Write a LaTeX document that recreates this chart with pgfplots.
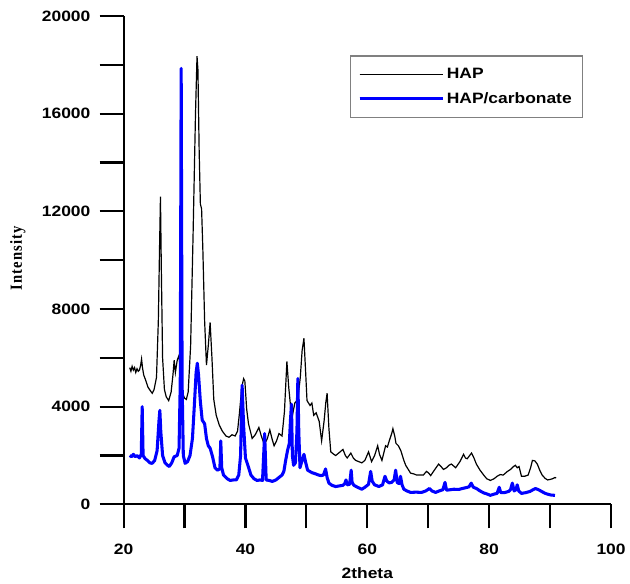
\documentclass[border=0pt]{standalone}
\usepackage{fontspec}
\setmainfont{Liberation Sans}[FakeStretch=1.16]
\newfontfamily\serfont{Liberation Serif}[LetterSpace=8]
\usepackage{pgfplots}
\pgfplotsset{compat=1.18}

\begin{document}
\begin{tikzpicture}
\begin{axis}[
  scale only axis,
  width=366.75pt, height=367.5pt,
  xmin=20, xmax=100, ymin=0, ymax=20000,
  axis x line*=bottom, axis y line*=left,
  axis line style={line width=1.6pt},
  tick align=outside,
  major tick length=18pt, minor tick length=18pt,
  tick style={black, line width=1.6pt},
  xtick={20,40,...,100}, minor xtick={30,50,70,90},
  ytick={0,4000,...,20000}, minor ytick={2000,6000,...,18000},
  scaled y ticks=false,
  /pgf/number format/1000 sep={},
  /pgf/number format/assume math mode=true,
  ticklabel style={font=\fontsize{11.3}{13}\selectfont\bfseries},
  xticklabel style={yshift=-8.5pt},
  yticklabel style={xshift=-3.5pt},
  xlabel={2theta}, ylabel={\serfont\bfseries Intensity},
  xlabel style={at={(axis description cs:0.5,-0.1408)}, anchor=center, font=\fontsize{11.3}{13}\selectfont\bfseries},
  ylabel style={at={(axis description cs:-0.2168,0.504)}, anchor=center, yscale=1.16, font=\fontsize{11}{13}\selectfont},
  legend style={at={(rel axis cs:0.4636,0.919)}, anchor=north west, draw=gray, line width=0.8pt,
    inner xsep=6pt, inner ysep=7.5pt, row sep=4.5pt,
    font=\fontsize{11.3}{13}\selectfont\bfseries, cells={anchor=west}},
  legend image code/.code={\path (0pt,0pt) -- (62.5pt,0pt); \draw[#1] (0pt,0pt) -- (57pt,0pt);},
]
\addplot[black, line width=0.9pt] coordinates {
(21.0,5600) (21.2,5450) (21.4,5650) (21.6,5500) (21.8,5600) (22.0,5400) (22.2,5550) (22.4,5450)
(22.6,5500) (22.8,5700) (22.95,5950) (23.1,5600) (23.3,5300) (23.6,5100) (24.0,4800) (24.4,4650)
(24.7,4550) (25.0,4700) (25.4,5200) (25.7,7500) (25.9,10500) (26.05,12600) (26.2,9500) (26.4,6000)
(26.7,4700) (27.0,4400) (27.4,4250) (27.8,4600) (28.1,5300) (28.3,5900) (28.5,5400) (28.8,5900)
(29.1,6100) (29.3,5500) (29.6,4600) (30.0,4350) (30.3,4300) (30.6,4600) (31.0,6500) (31.4,11000)
(31.8,16000) (32.05,18350) (32.2,17800) (32.4,14500) (32.6,12300) (32.8,12100) (33.0,10500)
(33.3,7500) (33.6,5700) (33.9,6500) (34.2,7450) (34.5,6000) (34.8,4300) (35.2,3650) (35.7,3250)
(36.2,3000) (36.8,2800) (37.3,2750) (37.8,2850) (38.3,2800) (38.7,3000) (39.0,3700) (39.4,4800)
(39.7,5150) (39.9,5050) (40.2,3900) (40.5,3300) (41.1,2700) (41.6,2850) (42.2,3150) (42.6,2800)
(43.1,2450) (43.6,2700) (44.0,3050) (44.4,2650) (44.7,2400) (45.1,2600) (45.5,2900) (46.0,2800)
(46.4,3800) (46.8,5850) (47.1,4800) (47.6,3500) (48.1,4150) (48.6,4300) (49.0,5200) (49.3,6300)
(49.6,6800) (49.9,5300) (50.1,4250) (50.6,4050) (50.9,4150) (51.2,3650) (51.6,3750) (52.1,3400)
(52.5,2600) (52.9,3400) (53.2,4200) (53.4,4550) (53.7,3100) (54.0,2150) (54.5,2050) (54.8,2000)
(55.3,2100) (56.0,2250) (56.4,2000) (56.7,1900) (57.3,2100) (57.7,1900) (58.1,1800) (58.6,1750)
(59.1,1700) (59.6,1800) (60.2,2150) (60.7,1750) (61.2,2000) (61.7,2400) (62.0,2050) (62.4,1800)
(63.0,2400) (63.3,2350) (63.6,2600) (64.0,2900) (64.2,3100) (64.5,2800) (64.7,2500) (65.1,2400)
(65.5,2200) (66.0,1800) (66.3,1600) (66.8,1400) (67.1,1280) (67.6,1250) (68.1,1200) (68.7,1200)
(69.2,1200) (69.7,1350) (70.0,1300) (70.4,1180) (71.0,1400) (71.7,1650) (72.1,1550) (72.5,1430)
(73.0,1500) (73.4,1600) (73.8,1650) (74.5,1500) (75.2,1750) (75.8,2050) (76.1,1900) (76.4,1870)
(77.1,2100) (77.5,1900) (77.9,1650) (78.5,1400) (79.1,1200) (79.6,1050) (80.2,980) (80.8,1050)
(81.3,1150) (81.8,1220) (82.3,1200) (83.0,1350) (83.5,1430) (84.0,1550) (84.3,1600) (84.6,1500)
(84.9,1550) (85.3,1150) (85.8,1150) (86.4,1200) (86.8,1500) (87.1,1800) (87.5,1780) (87.9,1650)
(88.3,1400) (88.7,1200) (89.2,1060) (89.6,1000) (90.0,1020) (90.4,1050) (90.8,1100) (91.0,1080)
};
\addlegendentry{HAP}
\addplot[blue, line width=2.3pt, line join=round] coordinates {
(21.0,2000) (21.3,1950) (21.6,2050) (21.9,1950) (22.2,2000) (22.6,1900) (22.9,2050) (23.05,4000)
(23.2,2000) (23.5,1880) (23.9,1800) (24.3,1700) (24.7,1680) (25.1,1800) (25.5,2200) (25.8,3400)
(25.95,3850) (26.1,3000) (26.4,2000) (26.8,1700) (27.2,1600) (27.5,1550) (27.9,1700) (28.3,1950)
(28.8,2000) (29.1,2300) (29.3,5000) (29.45,17850) (29.6,5000) (29.8,2000) (30.1,1680) (30.5,1750)
(30.9,2000) (31.3,2700) (31.6,4000) (31.9,5400) (32.1,5780) (32.3,5300) (32.6,4200) (32.9,3450)
(33.3,3300) (33.6,2700) (33.9,2400) (34.2,2300) (34.6,1950) (35.0,1500) (35.4,1400) (35.8,1450)
(35.95,2600) (36.1,1500) (36.4,1200) (37.0,1050) (37.5,980) (38.0,1000) (38.5,1000) (38.9,1200)
(39.2,2000) (39.45,4880) (39.7,3200) (40.0,1900) (40.4,1600) (40.9,1200) (41.4,1050) (41.9,980)
(42.4,1000) (42.8,980) (43.15,2900) (43.4,1000) (43.9,980) (44.4,940) (45.0,1000) (45.5,1100)
(46.0,1200) (46.3,1350) (46.6,1800) (46.9,2200) (47.2,2500) (47.4,3500) (47.55,4100) (47.7,2000)
(47.9,1600) (48.2,1700) (48.45,3000) (48.6,5150) (48.75,3000) (48.95,1500) (49.3,1800) (49.6,2050)
(49.9,1700) (50.2,1400) (50.9,1300) (51.5,1250) (52.0,1200) (52.4,1180) (52.8,1200) (53.15,1450)
(53.4,1100) (53.7,870) (54.2,780) (54.8,730) (55.5,760) (56.0,780) (56.3,850) (56.5,1000)
(56.7,800) (57.1,820) (57.35,1400) (57.5,900) (57.8,780) (58.4,700) (59.1,620) (59.6,700)
(60.2,820) (60.55,1350) (60.8,950) (61.2,800) (61.9,730) (62.5,800) (62.9,1150) (63.2,950)
(63.6,880) (64.0,900) (64.4,1000) (64.65,1400) (64.9,900) (65.2,850) (65.45,1150) (65.7,800)
(66.0,620) (66.5,550) (67.1,490) (68.0,500) (68.9,490) (69.6,550) (70.2,650) (70.6,550)
(71.2,490) (71.8,550) (72.4,600) (72.75,900) (73.0,580) (73.6,600) (74.2,620) (75.0,610)
(75.6,650) (76.3,690) (76.7,720) (77.05,870) (77.4,700) (77.9,650) (78.5,550) (79.1,470)
(79.6,430) (80.2,370) (80.8,420) (81.3,450) (81.65,700) (81.9,480) (82.5,480) (83.2,530)
(83.5,600) (83.8,870) (84.1,550) (84.4,600) (84.6,800) (84.85,550) (85.3,450) (86.0,480)
(86.7,530) (87.2,600) (87.6,650) (88.1,600) (88.6,530) (89.2,450) (89.7,410) (90.2,380) (90.8,370)
};
\addlegendentry{HAP/carbonate}
\end{axis}
\path (-93pt,-57.75pt) rectangle (379.5pt,379.5pt);
\end{tikzpicture}
\end{document}
